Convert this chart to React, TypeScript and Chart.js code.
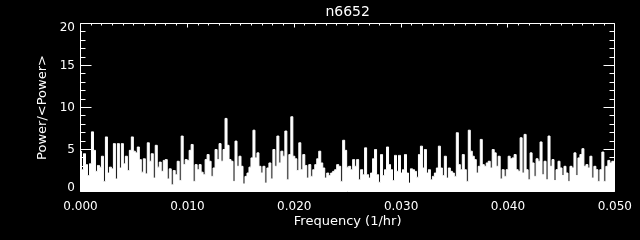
import React, { useEffect, useRef } from "react";
import { Chart, registerables } from "chart.js";

Chart.register(...registerables);

const TITLE = "n6652";
const X_TITLE = "Frequency (1/hr)";
const Y_TITLE = "Power/<Power>";

const FREQ_MIN = 0;
const FREQ_MAX = 0.05;
const POWER_MIN = 0;
const POWER_MAX = 20;

const X_TICKS = [0, 0.01, 0.02, 0.03, 0.04, 0.05];
const Y_TICKS = [0, 5, 10, 15, 20];
const X_MINOR_STEP = 0.001;
const Y_MINOR_STEP = 1;

// Normalised power, evenly spaced in frequency from 0 to 0.05
const POWER = [
  4.8, 2.6, 4.5, 3.2, 1.9, 3.3, 7.1, 4.9, 2.4, 3.1,
  2.9, 4.2, 1.2, 6.5, 2.2, 2.9, 2.7, 5.7, 1.5, 5.7,
  2.8, 5.7, 3.3, 4.2, 2.5, 4.9, 6.5, 4.8, 4.6, 5.3,
  3.8, 2.3, 3.9, 2.1, 5.8, 3.6, 4.5, 1.6, 5.5, 2.9,
  3.5, 2.4, 3.7, 3.8, 1.5, 2.7, 0.8, 2.5, 2.0, 3.6,
  1.3, 6.6, 3.2, 3.8,

  3.7, 4.9, 5.6, 1.2, 3.2, 2.6, 3.2, 2.3, 2.0, 3.8,
  4.4, 3.6, 1.8, 2.8, 5.0, 3.8, 5.7, 3.6, 5.0, 8.7,
  5.5, 3.8, 3.6, 1.2, 6.0, 3.0, 4.2, 3.0, 0.9, 1.8,
  2.2, 2.9, 4.0, 7.3, 4.0, 4.6, 3.0, 2.2, 3.0, 1.0,
  2.8, 3.4, 1.5, 5.0, 3.0, 6.6, 3.4, 4.8, 4.2, 7.2,
  1.4, 4.4, 8.9, 4.2,

  3.9, 2.5, 5.8, 2.6, 4.4, 3.1, 1.6, 3.2, 1.8, 2.6,
  3.2, 3.9, 4.8, 3.4, 2.8, 1.6, 2.2, 1.9, 2.2, 2.4,
  2.6, 3.2, 3.0, 1.2, 6.1, 4.9, 2.9, 3.0, 2.6, 3.8,
  3.0, 3.8, 1.4, 2.6, 2.0, 5.2, 2.0, 1.6, 2.2, 3.9,
  5.0, 2.0, 1.1, 4.4, 1.9, 2.6, 5.3, 3.2, 2.6, 1.3,
  4.3, 2.4, 4.3, 2.2,

  2.6, 4.4, 2.2, 1.0, 2.7, 2.6, 2.4, 1.7, 4.4, 5.4,
  2.8, 5.0, 2.2, 2.6, 1.4, 1.8, 2.2, 2.8, 5.4, 2.8,
  1.9, 4.2, 1.6, 2.8, 2.4, 2.2, 1.8, 7.0, 3.2, 2.6,
  4.4, 2.6, 1.2, 7.3, 4.8, 4.2, 3.8, 2.2, 3.0, 6.2,
  3.2, 3.0, 3.4, 3.6, 2.8, 5.0, 4.6, 3.0, 4.2, 1.5,
  2.6, 1.8, 2.6, 4.2,

  3.9, 4.0, 4.4, 2.6, 2.4, 6.4, 2.2, 6.8, 2.6, 1.4,
  4.6, 3.4, 1.8, 3.9, 3.6, 5.9, 2.0, 3.6, 1.4, 6.6,
  3.0, 3.8, 1.3, 2.6, 3.6, 2.8, 1.9, 3.0, 2.2, 1.2,
  3.0, 2.8, 4.6, 1.9, 4.0, 4.4, 5.1, 3.0, 3.2, 2.8,
  4.2, 1.6, 3.0, 2.6, 1.2, 2.6, 4.7, 1.2, 3.0, 3.7,
  3.4, 3.6, 3.5,
];

const FONT = '"DejaVu Sans", "Liberation Sans", sans-serif';
const FG = "#ffffff";
const BG = "#000000";

const idlFrame = {
  id: "idlFrame",
  beforeDraw(chart: any) {
    const { ctx, width, height } = chart;
    ctx.save();
    ctx.fillStyle = BG;
    ctx.fillRect(0, 0, width, height);
    ctx.restore();
  },
  afterDatasetsDraw(chart: any) {
    const { ctx, chartArea: a, scales } = chart;
    const xs = scales.x;
    const ys = scales.y;
    const snap = (v: number) => Math.floor(v) + 0.5;
    const L = snap(a.left);
    const R = snap(a.right - 0.01);
    const T = snap(a.top);
    const B = snap(a.bottom - 0.01);
    ctx.save();
    ctx.strokeStyle = FG;
    ctx.lineWidth = 1;
    ctx.beginPath();
    ctx.rect(L, T, R - L, B - T);
    const xMajor = 4;
    const xMinor = 2;
    const yMajor = 11;
    const yMinor = 5;
    const nx = Math.round((FREQ_MAX - FREQ_MIN) / X_MINOR_STEP);
    for (let i = 0; i <= nx; i++) {
      const v = FREQ_MIN + i * X_MINOR_STEP;
      const isMajor = X_TICKS.some((t) => Math.abs(t - v) < 1e-9);
      const len = isMajor ? xMajor : xMinor;
      const px = Math.min(R, snap(xs.getPixelForValue(v)));
      ctx.moveTo(px, B);
      ctx.lineTo(px, B - len);
      ctx.moveTo(px, T);
      ctx.lineTo(px, T + len);
    }
    const ny = Math.round((POWER_MAX - POWER_MIN) / Y_MINOR_STEP);
    for (let i = 0; i <= ny; i++) {
      const v = POWER_MIN + i * Y_MINOR_STEP;
      const isMajor = Y_TICKS.some((t) => Math.abs(t - v) < 1e-9);
      const len = isMajor ? yMajor : yMinor;
      const py = Math.min(B, snap(ys.getPixelForValue(v)));
      ctx.moveTo(L, py);
      ctx.lineTo(L + len, py);
      ctx.moveTo(R, py);
      ctx.lineTo(R - len, py);
    }
    ctx.stroke();

    // y tick labels, kept inside the frame at the ends as in the original plot
    ctx.fillStyle = FG;
    ctx.font = `12px ${FONT}`;
    ctx.textAlign = "right";
    ctx.textBaseline = "middle";
    for (const v of Y_TICKS) {
      const py = ys.getPixelForValue(v);
      const y = Math.max(a.top + 4.5, Math.min(a.bottom - 4, py));
      ctx.fillText(String(v), a.left - 5.5, y);
    }
    ctx.restore();
  },
};

export default function App() {
  const canvasRef = useRef<HTMLCanvasElement | null>(null);

  useEffect(() => {
    document.body.style.margin = "0";
    document.body.style.background = BG;
    const canvas = canvasRef.current;
    if (!canvas) return;
    const step = (FREQ_MAX - FREQ_MIN) / (POWER.length - 1);
    const points = POWER.map((p, i) => ({ x: FREQ_MIN + i * step, y: p }));

    const chart = new Chart(canvas, {
      type: "line",
      data: {
        datasets: [
          {
            data: points,
            stepped: "middle",
            borderColor: FG,
            backgroundColor: FG,
            borderWidth: 1,
            pointRadius: 0,
            fill: "origin",
            tension: 0,
          },
        ],
      },
      options: {
        responsive: false,
        animation: false,
        events: [],
        layout: { padding: { left: 0, right: 23.5, top: 0, bottom: 0 } },
        plugins: {
          legend: { display: false },
          tooltip: { enabled: false },
          title: {
            display: true,
            text: TITLE,
            color: FG,
            fullSize: false,
            font: { family: FONT, size: 14, weight: "normal" },
            padding: { top: 4, bottom: 2.7 },
          },
        },
        scales: {
          x: {
            type: "linear",
            min: FREQ_MIN,
            max: FREQ_MAX,
            grid: { display: false, drawTicks: false },
            border: { display: false },
            afterBuildTicks: (s: any) => {
              s.ticks = X_TICKS.map((v) => ({ value: v }));
            },
            afterFit: (s: any) => {
              s.height = 48.5;
            },
            ticks: {
              color: FG,
              autoSkip: false,
              maxRotation: 0,
              padding: 8,
              font: { family: FONT, size: 12 },
              callback: (v: any) => Number(v).toFixed(3),
            },
            title: {
              display: true,
              text: X_TITLE,
              color: FG,
              font: { family: FONT, size: 13 },
              padding: { top: 0, bottom: 10.4 },
            },
          },
          y: {
            type: "linear",
            min: POWER_MIN,
            max: POWER_MAX,
            grid: { display: false, drawTicks: false },
            border: { display: false },
            afterBuildTicks: (s: any) => {
              s.ticks = Y_TICKS.map((v) => ({ value: v }));
            },
            afterFit: (s: any) => {
              s.width = 80.5;
            },
            ticks: {
              display: false,
              autoSkip: false,
            },
            title: {
              display: true,
              text: Y_TITLE,
              color: FG,
              font: { family: FONT, size: 13 },
              padding: { top: 35.2, bottom: 0 },
            },
          },
        },
      },
      plugins: [idlFrame],
    } as any);

    return () => chart.destroy();
  }, []);

  return (
    <div style={{ width: 640, height: 240, background: BG }}>
      <canvas ref={canvasRef} width={640} height={240} style={{ display: "block" }} />
    </div>
  );
}
